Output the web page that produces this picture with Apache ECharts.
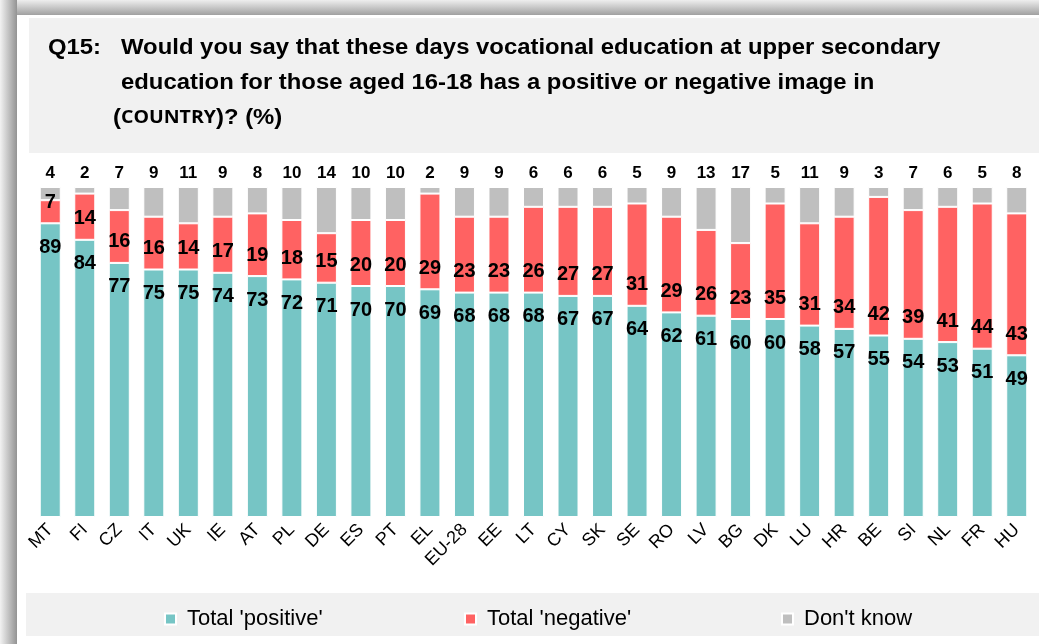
<!DOCTYPE html>
<html>
<head>
<meta charset="utf-8">
<script src="https://cdn.jsdelivr.net/npm/echarts@6/dist/echarts.min.js"></script>
<style>
  html, body { margin: 0; padding: 0; background: #fff; }
  #chart { width: 1039px; height: 644px; }
</style>
</head>
<body>
<div id="chart"></div>
<script>
var countries = ['MT','FI','CZ','IT','UK','IE','AT','PL','DE','ES','PT','EL','EU-28','EE','LT','CY','SK','SE','RO','LV','BG','DK','LU','HR','BE','SI','NL','FR','HU'];
var positive = [89,84,77,75,75,74,73,72,71,70,70,69,68,68,68,67,67,64,62,61,60,60,58,57,55,54,53,51,49];
var negative = [7,14,16,16,14,17,19,18,15,20,20,29,23,23,26,27,27,31,29,26,23,35,31,34,42,39,41,44,43];
var dontKnow = [4,2,7,9,11,9,8,10,14,10,10,2,9,9,6,6,6,5,9,13,17,5,11,9,3,7,6,5,8];
var seriesNames = ["Total 'positive'", "Total 'negative'", "Don't know"];

var arial = 'Arial, "Liberation Sans"';
var titleFont = 'bold 22px ' + arial;
var sx = 1.085;

function legendAt(name, left) {
    return {
        left: left,
        top: 603,
        itemWidth: 11,
        itemHeight: 11,
        icon: 'rect',
        textStyle: { fontFamily: arial, fontSize: 22, color: '#000', padding: [0, 0, 0, 6] },
        data: [name]
    };
}

var chart = echarts.init(document.getElementById('chart'));

var option = {
    backgroundColor: '#fff',
    animation: false,
    graphic: [
        // frame shadow left and top
        { type: 'rect', shape: { x: 0, y: 0, width: 17, height: 644 }, z: -10,
          style: { fill: new echarts.graphic.LinearGradient(0, 0, 1, 0, [{ offset: 0, color: '#f2f2f2' }, { offset: 1, color: '#939393' }]) } },
        { type: 'rect', shape: { x: 17, y: 0, width: 1022, height: 15 }, z: -10,
          style: { fill: new echarts.graphic.LinearGradient(0, 0, 0, 1, [{ offset: 0, color: '#eeeeee' }, { offset: 1, color: '#a0a0a0' }]) } },
        // title box
        { type: 'rect', shape: { x: 29, y: 18, width: 1010, height: 135 }, z: -5, style: { fill: '#f1f1f1' } },
        { type: 'text', x: 48, y: 48, scaleX: sx, style: { text: 'Q15:', font: titleFont, fill: '#000', verticalAlign: 'middle' } },
        { type: 'text', x: 121, y: 48, scaleX: sx, style: { text: 'Would you say that these days vocational education at upper secondary', font: titleFont, fill: '#000', verticalAlign: 'middle' } },
        { type: 'text', x: 121, y: 83, scaleX: sx, style: { text: 'education for those aged 16-18 has a positive or negative image in', font: titleFont, fill: '#000', verticalAlign: 'middle' } },
        { type: 'text', x: 113, y: 118, scaleX: sx, style: {
            text: '{a|(}{b|COUNTRY}{a|)? (%)}',
            verticalAlign: 'middle',
            rich: {
                a: { fontFamily: arial, fontWeight: 'bold', fontSize: 22, color: '#000' },
                b: { fontFamily: '"Open Sans", Arial', fontWeight: 'bold', fontSize: 18, color: '#000' }
            } } },
        // legend box
        { type: 'rect', shape: { x: 26, y: 593, width: 1013, height: 43 }, z: -5, style: { fill: '#f1f1f1' } }
    ],
    color: ['#76c5c5', '#ff6262', '#bfbfbf'],
    legend: [
        legendAt(seriesNames[0], 159),
        legendAt(seriesNames[1], 459),
        legendAt(seriesNames[2], 776)
    ],
    grid: { left: 33, right: 5, top: 187, bottom: 127 },
    xAxis: {
        type: 'category',
        data: countries,
        axisLine: { show: false },
        axisTick: { show: false },
        axisLabel: { rotate: 45, margin: 10, interval: 0, fontFamily: arial, fontSize: 18, color: '#000' }
    },
    yAxis: { type: 'value', min: 0, max: 100, show: false, splitLine: { show: false } },
    series: [
        { name: seriesNames[0], type: 'bar', stack: 'all', barWidth: 21, data: positive,
          itemStyle: { borderColor: '#fff', borderWidth: 1 },
          label: { show: true, position: 'insideTop', distance: 14, fontFamily: arial, fontWeight: 'bold', fontSize: 20, color: '#000' } },
        { name: seriesNames[1], type: 'bar', stack: 'all', barWidth: 21, data: negative,
          itemStyle: { borderColor: '#fff', borderWidth: 1 },
          label: { show: true, position: 'insideBottom', distance: 11, fontFamily: arial, fontWeight: 'bold', fontSize: 20, color: '#000' } },
        { name: seriesNames[2], type: 'bar', stack: 'all', barWidth: 21, data: dontKnow,
          itemStyle: { borderColor: '#fff', borderWidth: 1 },
          label: { show: true, position: 'top', distance: 5, fontFamily: arial, fontWeight: 'bold', fontSize: 17, color: '#000' } }
    ]
};
chart.setOption(option);
</script>
</body>
</html>
